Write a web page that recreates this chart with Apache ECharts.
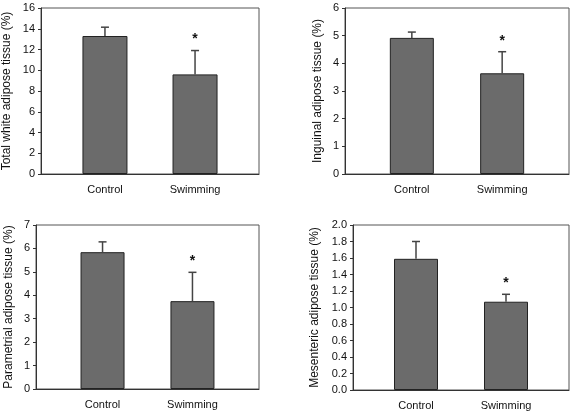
<!DOCTYPE html>
<html>
<head>
<meta charset="utf-8">
<script src="https://cdn.jsdelivr.net/npm/echarts@6/dist/echarts.min.js"></script>
<style>
  html, body { margin: 0; padding: 0; background: #fff; }
  #chart { width: 570px; height: 415px; }
</style>
</head>
<body>
<div id="chart"></div>
<script>
const categories = ['Control', 'Swimming']

// mean values (% of body weight)
const totalWhite = [13.3, 9.6]
const inguinal = [4.92, 3.64]
const parametrial = [5.84, 3.75]
const mesenteric = [1.59, 1.07]

// upper error (SD)
const totalWhiteSd = [0.85, 2.3]
const inguinalSd = [0.21, 0.78]
const parametrialSd = [0.44, 1.23]
const mesentericSd = [0.21, 0.09]

// * = significant vs control
const significant = [false, true]

const yNames = [
  'Total white adipose tissue (%)',
  'Inguinal adipose tissue (%)',
  'Parametrial adipose tissue (%)',
  'Mesenteric adipose tissue (%)'
]
const yMax = [16, 6, 7, 2]
const yStep = [2, 1, 1, 0.2]

const panels = [
  { means: totalWhite, sd: totalWhiteSd, grid: { left: 41, right: 311, top: 8, bottom: 241 }, xr: [-0.71, 1.71], gap: 28, bw: 45 },
  { means: inguinal, sd: inguinalSd, grid: { left: 345, right: 1, top: 8, bottom: 241 }, xr: [-0.74, 1.74], gap: 21, bw: 44 },
  { means: parametrial, sd: parametrialSd, grid: { left: 36, right: 311, top: 225, bottom: 26 }, xr: [-0.74, 1.74], gap: 21, bw: 44 },
  { means: mesenteric, sd: mesentericSd, grid: { left: 353, right: 1, top: 225, bottom: 25 }, xr: [-0.70, 1.70], gap: 32, bw: 44 }
]

const font = 'Liberation Sans, Arial, sans-serif'
const chart = echarts.init(document.getElementById('chart'))

const grid = [], xAxis = [], yAxis = [], series = []

panels.forEach((p, i) => {
  grid.push({ ...p.grid, show: true, borderColor: '#555', borderWidth: 1, containLabel: false })
  xAxis.push({
    type: 'value', gridIndex: i, min: p.xr[0], max: p.xr[1],
    axisLine: { show: true, onZero: false, lineStyle: { color: '#333' } },
    axisTick: { show: false },
    splitLine: { show: false },
    axisLabel: {
      customValues: [0, 1],
      formatter: v => categories[Math.round(v)] || '',
      color: '#111', fontSize: 11, fontFamily: font, margin: 10
    }
  })
  yAxis.push({
    type: 'value', gridIndex: i, min: 0, max: yMax[i], interval: yStep[i],
    name: yNames[i], nameLocation: 'middle', nameGap: p.gap, nameRotate: 90,
    nameTextStyle: { color: '#111', fontSize: 12, fontFamily: font },
    axisLine: { show: true, onZero: false, lineStyle: { color: '#333' } },
    axisTick: { show: true, inside: false, length: 3, lineStyle: { color: '#333' } },
    splitLine: { show: false },
    axisLabel: {
      color: '#111', fontSize: 11, fontFamily: font, margin: 6,
      formatter: v => i === 3 ? v.toFixed(1) : String(v)
    }
  })
  series.push({
    type: 'bar', xAxisIndex: i, yAxisIndex: i, barWidth: p.bw,
    data: p.means.map((m, k) => [k, m]),
    itemStyle: { color: '#6b6b6b', borderColor: '#222', borderWidth: 1 }
  })
  series.push({
    type: 'custom', xAxisIndex: i, yAxisIndex: i, z: 5,
    data: p.means.map((m, k) => [k, m, p.sd[k], significant[k] ? 1 : 0]),
    renderItem: (params, api) => {
      const base = api.coord([api.value(0), api.value(1)])
      const top = api.coord([api.value(0), api.value(1) + api.value(2)])
      const style = { stroke: '#444', lineWidth: 1.5 }
      const children = [
        { type: 'line', shape: { x1: base[0], y1: base[1], x2: top[0], y2: top[1] }, style },
        { type: 'line', shape: { x1: top[0] - 4, y1: top[1], x2: top[0] + 4, y2: top[1] }, style }
      ]
      if (api.value(3)) {
        children.push({
          type: 'text',
          style: { text: '*', x: top[0], y: top[1] - 4, align: 'center', verticalAlign: 'bottom',
            fill: '#111', fontSize: 14, fontWeight: 'bold', fontFamily: font }
        })
      }
      return { type: 'group', children }
    }
  })
})

chart.setOption({
  animation: false,
  backgroundColor: '#fff',
  grid, xAxis, yAxis, series
})
</script>
</body>
</html>
